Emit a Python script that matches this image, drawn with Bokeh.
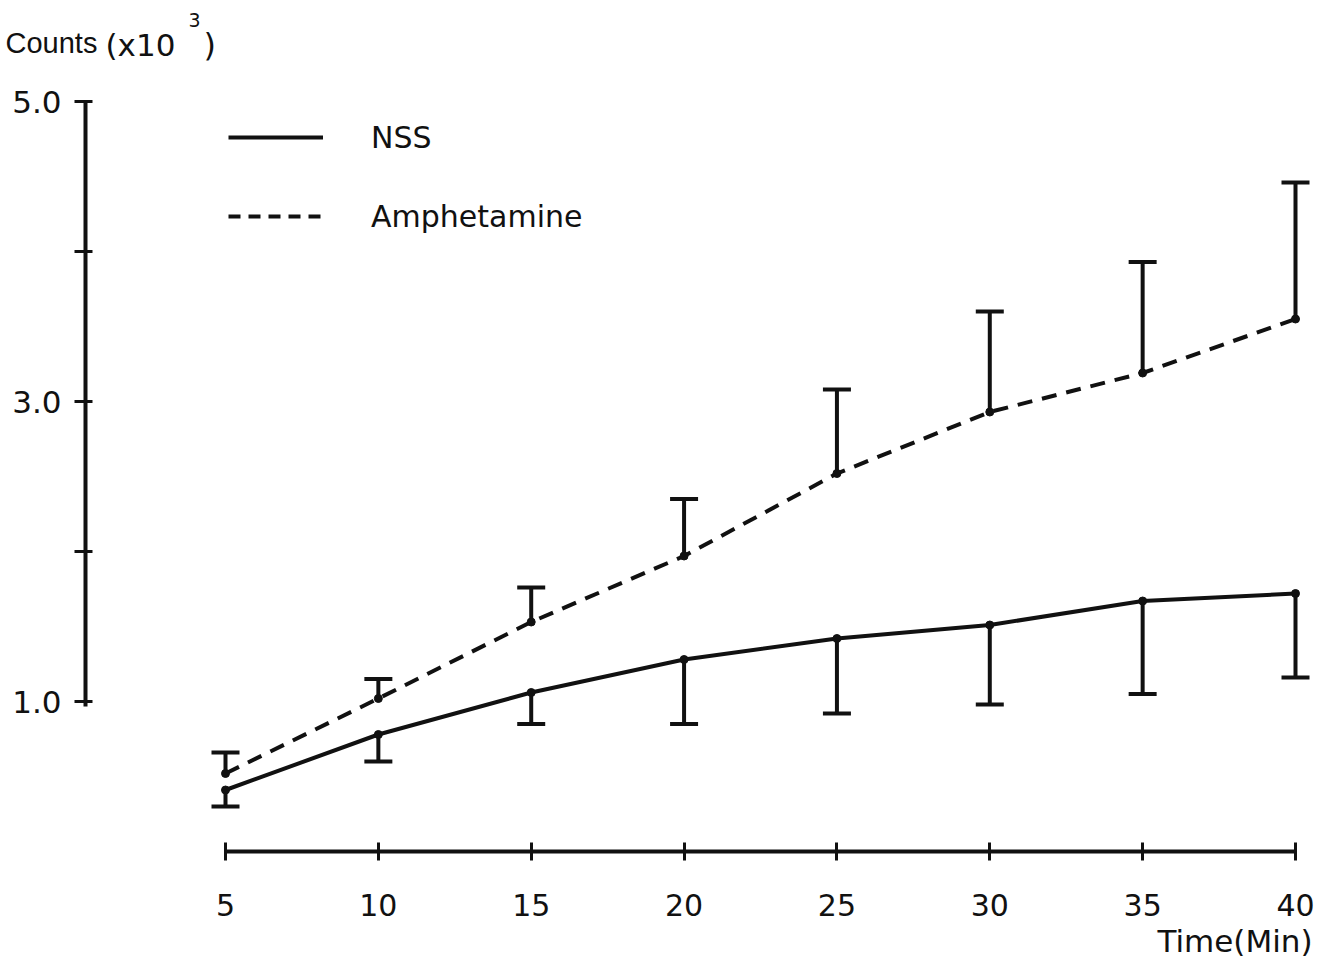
from bokeh.plotting import figure
from bokeh.models import (ColumnDataSource, Whisker, TeeHead, Label, Legend, LegendItem,
                          FixedTicker, Range1d)
from bokeh.embed import file_html
from bokeh.resources import INLINE

# ---- data (counts x10^3) ----
times = [5, 10, 15, 20, 25, 30, 35, 40]
nss_mean = [0.41, 0.78, 1.06, 1.28, 1.42, 1.51, 1.67, 1.72]
nss_lower = [0.30, 0.60, 0.85, 0.85, 0.92, 0.98, 1.05, 1.16]
amph_mean = [0.52, 1.02, 1.53, 1.97, 2.52, 2.93, 3.19, 3.55]
amph_upper = [0.66, 1.15, 1.76, 2.35, 3.08, 3.60, 3.93, 4.46]
series_names = ["NSS", "Amphetamine"]
x_ticks = [5, 10, 15, 20, 25, 30, 35, 40]
y_ticks = [1, 2, 3, 4, 5]
y_tick_labels = {1: "1.0", 2: "", 3: "3.0", 4: "", 5: "5.0"}

W, H = 1334, 966
# full-canvas frame; pixel <-> data mapping
px_per_x = (1295 - 225) / 35.0
px_per_y = 150.0
x_start = 5 - 225 / px_per_x
x_end = 5 + (W - 225) / px_per_x
y_start = -(H - 851) / px_per_y
y_end = 851 / px_per_y

def px_x(px):
    return x_start + px / px_per_x

def px_y(py):
    return y_end - py / px_per_y

p = figure(width=W, height=H, output_backend="svg", toolbar_location=None,
           x_range=Range1d(x_start, x_end), y_range=Range1d(y_start, y_end),
           min_border=0)
p.outline_line_color = None
p.xgrid.visible = False
p.ygrid.visible = False
p.background_fill_color = "white"
p.border_fill_color = "white"

ink = "#111111"
tick_font = "DejaVu Sans"

# axes
xa = p.xaxis[0]
xa.fixed_location = 0
xa.ticker = FixedTicker(ticks=x_ticks)
xa.bounds = (5, 40)
xa.axis_line_width = 4
xa.axis_line_color = ink
xa.major_tick_line_width = 3
xa.major_tick_line_color = ink
xa.major_tick_in = 9
xa.major_tick_out = 9
xa.minor_tick_line_color = None
xa.major_label_standoff = 33
xa.major_label_text_font = tick_font
xa.major_label_text_font_size = "30px"
xa.major_label_text_color = ink

ya = p.yaxis[0]
ya.fixed_location = px_x(85)
ya.ticker = FixedTicker(ticks=y_ticks)
ya.major_label_overrides = y_tick_labels
ya.bounds = (0.97, 5.0)
ya.axis_line_width = 4
ya.axis_line_color = ink
ya.major_tick_line_width = 3
ya.major_tick_line_color = ink
ya.major_tick_in = 7
ya.major_tick_out = 11
ya.minor_tick_line_color = None
ya.major_label_standoff = 13
ya.major_label_text_font = tick_font
ya.major_label_text_font_size = "31px"
ya.major_label_text_color = ink

# lines
p.line(times, nss_mean, line_color=ink, line_width=4)
p.line(times, amph_mean, line_color=ink, line_width=4, line_dash="15 10")
p.scatter(times, nss_mean, size=8, color=ink)
p.scatter(times, amph_mean, size=8, color=ink)

# error bars
src_n = ColumnDataSource(dict(t=times, lo=nss_lower, hi=nss_mean))
src_a = ColumnDataSource(dict(t=times, lo=amph_mean, hi=amph_upper))
p.add_layout(Whisker(source=src_n, base="t", lower="lo", upper="hi", line_width=4,
                     line_color=ink,
                     lower_head=TeeHead(size=28, line_width=4, line_color=ink),
                     upper_head=None))
p.add_layout(Whisker(source=src_a, base="t", lower="lo", upper="hi", line_width=4,
                     line_color=ink,
                     upper_head=TeeHead(size=28, line_width=4, line_color=ink),
                     lower_head=None))

# legend keys: single-point lines (draw nothing in the plot, style shown in key)
key_nss = p.line(times[:1], nss_mean[:1], line_color=ink, line_width=4)
key_amph = p.line(times[:1], amph_mean[:1], line_color=ink, line_width=4, line_dash="12 8")
legend = Legend(items=[LegendItem(label=series_names[0], renderers=[key_nss]),
                       LegendItem(label=series_names[1], renderers=[key_amph])],
                location=(228, H - 236), padding=0, margin=0, spacing=39,
                glyph_width=95, glyph_height=40, label_height=40, label_standoff=48,
                label_text_font=tick_font, label_text_font_size="30px",
                label_text_color=ink,
                border_line_color=None, background_fill_alpha=0)
p.add_layout(legend)

# axis titles
font = "Liberation Sans"
p.add_layout(Label(x=px_x(5), y=px_y(42), text="Counts", text_font=font,
                   text_font_size="29px", text_baseline="middle", text_color=ink))
p.add_layout(Label(x=px_x(105), y=px_y(44), text="(x10", text_font=tick_font,
                   text_font_size="31px", text_baseline="middle", text_color=ink))
p.add_layout(Label(x=px_x(188), y=px_y(19), text="3", text_font=tick_font,
                   text_font_size="19px", text_baseline="middle", text_color=ink))
p.add_layout(Label(x=px_x(203), y=px_y(44), text=")", text_font=tick_font,
                   text_font_size="32px", text_baseline="middle", text_color=ink))
p.add_layout(Label(x=px_x(1312), y=px_y(940), text="Time(Min)", text_font=tick_font,
                   text_font_size="31px", text_baseline="middle", text_align="right",
                   text_color=ink))

open("out.html", "w").write(file_html(p, INLINE))
